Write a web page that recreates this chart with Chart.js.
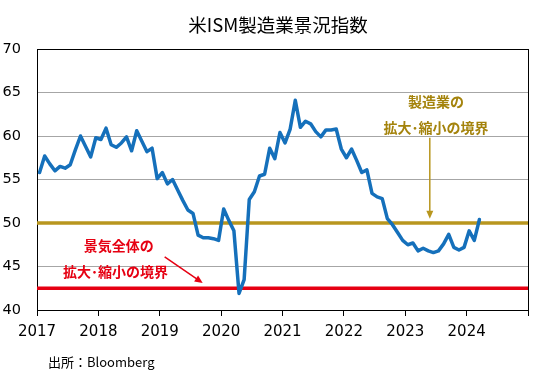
<!DOCTYPE html>
<html><head><meta charset="utf-8">
<script src="https://cdn.jsdelivr.net/npm/chart.js@4.4.0/dist/chart.umd.min.js"></script>
<style>html,body{margin:0;padding:0;background:#fff;}#wrap{width:554px;height:379px;}</style>
</head><body><div id="wrap"><canvas id="c" width="554" height="379"></canvas></div>
<script>
// ---- data ----
const chartTitle = '米ISM製造業景況指数';
const sourceText = '出所：Bloomberg';
const startYear = 2017;
const axisYears = [2017, 2018, 2019, 2020, 2021, 2022, 2023, 2024, 2025];
const yearLabels = [2017, 2018, 2019, 2020, 2021, 2022, 2023, 2024];
const yTicks = [40, 45, 50, 55, 60, 65, 70];
const pmi2017 = [55.8, 57.7, 56.8, 56.0, 56.5, 56.3, 56.7, 58.4, 60.0, 58.8, 57.6, 59.8];
const pmi2018 = [59.6, 60.9, 59.0, 58.7, 59.2, 59.9, 58.3, 60.6, 59.4, 58.2, 58.6, 55.1];
const pmi2019 = [55.8, 54.5, 55.0, 53.8, 52.6, 51.5, 51.1, 48.6, 48.3, 48.3, 48.2, 48.0];
const pmi2020 = [51.6, 50.3, 49.1, 41.9, 43.5, 52.7, 53.6, 55.4, 55.6, 58.6, 57.4, 60.4];
const pmi2021 = [59.2, 60.8, 64.1, 61.0, 61.7, 61.4, 60.5, 59.9, 60.7, 60.7, 60.8, 58.5];
const pmi2022 = [57.5, 58.5, 57.2, 55.8, 56.1, 53.4, 53.0, 52.8, 50.5, 49.8, 48.9, 48.0];
const pmi2023 = [47.5, 47.7, 46.8, 47.1, 46.8, 46.6, 46.8, 47.6, 48.7, 47.2, 46.9, 47.2];
const pmi2024 = [49.1, 48.0, 50.4];
const manufBoundary = 50;
const economyBoundary = 42.5;
const manufNote = ['製造業の', '拡大･縮小の境界'];
const economyNote = ['景気全体の', '拡大･縮小の境界'];

const pmiValues = [].concat(pmi2017, pmi2018, pmi2019, pmi2020, pmi2021, pmi2022, pmi2023, pmi2024);
const pmiPoints = pmiValues.map((v, i) => ({ x: startYear + (i + 0.5) / 12, y: v }));
const xMin = axisYears[0], xMax = axisYears[axisYears.length - 1];

const BLUE = '#1570BB', GOLD = '#B8961E', GOLD_TXT = '#A4830C', RED = '#E60012';
const NUMFONT = 'DejaVu Sans';
const JPFONT = '"Noto Sans CJK JP", "Noto Sans", sans-serif';

const decor = {
  id: 'decor',
  beforeDatasetsDraw(chart) {
    const { ctx, chartArea: a } = chart;
    ctx.save();
    ctx.strokeStyle = '#000'; ctx.lineWidth = 1;
    ctx.strokeRect(Math.round(a.left) + 0.5, Math.round(a.top) + 0.5, Math.round(a.right - a.left), Math.round(a.bottom - a.top));
    ctx.restore();
  },
  afterDraw(chart) {
    const { ctx, scales: { x, y } } = chart;
    ctx.save();
    ctx.textAlign = 'center'; ctx.textBaseline = 'middle';
    ctx.fillStyle = '#000';
    ctx.font = '18.5px ' + JPFONT;
    ctx.fillText(chartTitle, 278, 25);
    ctx.textAlign = 'left';
    ctx.font = '13px ' + JPFONT;
    ctx.fillText(sourceText, 48, 362);
    // notes
    ctx.textAlign = 'center';
    ctx.font = 'bold 14px ' + JPFONT;
    ctx.fillStyle = GOLD_TXT;
    ctx.fillText(manufNote[0], x.getPixelForValue(2023.5), y.getPixelForValue(63.9));
    ctx.fillText(manufNote[1], x.getPixelForValue(2023.5), y.getPixelForValue(60.9));
    ctx.fillStyle = RED;
    ctx.fillText(economyNote[0], x.getPixelForValue(2018.33), y.getPixelForValue(47.35));
    ctx.fillText(economyNote[1], x.getPixelForValue(2018.28), y.getPixelForValue(44.45));
    const arrow = (x0, y0, x1, y1, col, w, hl, hw) => {
      const ang = Math.atan2(y1 - y0, x1 - x0);
      ctx.strokeStyle = col; ctx.fillStyle = col; ctx.lineWidth = w;
      ctx.beginPath(); ctx.moveTo(x0, y0);
      ctx.lineTo(x1 - Math.cos(ang) * hl * 0.8, y1 - Math.sin(ang) * hl * 0.8); ctx.stroke();
      ctx.beginPath(); ctx.moveTo(x1, y1);
      ctx.lineTo(x1 - Math.cos(ang) * hl + Math.sin(ang) * hw, y1 - Math.sin(ang) * hl - Math.cos(ang) * hw);
      ctx.lineTo(x1 - Math.cos(ang) * hl - Math.sin(ang) * hw, y1 - Math.sin(ang) * hl + Math.cos(ang) * hw);
      ctx.closePath(); ctx.fill();
    };
    arrow(x.getPixelForValue(2023.4), y.getPixelForValue(59.8), x.getPixelForValue(2023.4), y.getPixelForValue(50.5), GOLD, 1.5, 8, 3.5);
    arrow(x.getPixelForValue(2019.08), y.getPixelForValue(46.1), x.getPixelForValue(2019.7), y.getPixelForValue(43.1), RED, 1.5, 8, 3.5);
    ctx.restore();
  }
};

new Chart(document.getElementById('c'), {
  type: 'line',
  data: {
    datasets: [
      { label: 'ISM', data: pmiPoints, borderColor: BLUE, borderWidth: 3.5, pointRadius: 0, tension: 0, borderJoinStyle: 'round', borderCapStyle: 'round' },
      { label: 'manuf', data: [{ x: xMin, y: manufBoundary }, { x: xMax, y: manufBoundary }], borderColor: GOLD, borderWidth: 3.5, pointRadius: 0 },
      { label: 'economy', data: [{ x: xMin, y: economyBoundary }, { x: xMax, y: economyBoundary }], borderColor: RED, borderWidth: 3.5, pointRadius: 0 }
    ]
  },
  options: {
    responsive: false, animation: false, devicePixelRatio: 1,
    layout: { padding: { left: 0, right: 26, top: 49, bottom: 0 } },
    plugins: { legend: { display: false }, tooltip: { enabled: false }, title: { display: false } },
    scales: {
      x: {
        type: 'linear', min: xMin, max: xMax,
        afterBuildTicks: s => { s.ticks = axisYears.map(v => ({ value: v })); },
        afterFit: s => { s.height = 379 - 310; },
        grid: { drawOnChartArea: false, drawTicks: true, tickLength: 6, color: '#000' },
        border: { display: true, color: '#000', width: 1 },
        ticks: { padding: 7, color: '#000', font: { family: NUMFONT, size: 15 }, maxRotation: 0, autoSkip: false,
          callback: v => yearLabels.includes(v) ? String(v) : '' }
      },
      y: {
        min: 40, max: 70,
        afterBuildTicks: s => { s.ticks = yTicks.map(v => ({ value: v })); },
        afterFit: s => { s.width = 37; },
        grid: { color: '#A6A6A6', lineWidth: 1, drawTicks: false },
        border: { display: true, color: '#000', width: 1 },
        ticks: { padding: 16, color: '#000', font: { family: NUMFONT, size: 14.5 } }
      }
    }
  },
  plugins: [decor]
});
</script></body></html>
